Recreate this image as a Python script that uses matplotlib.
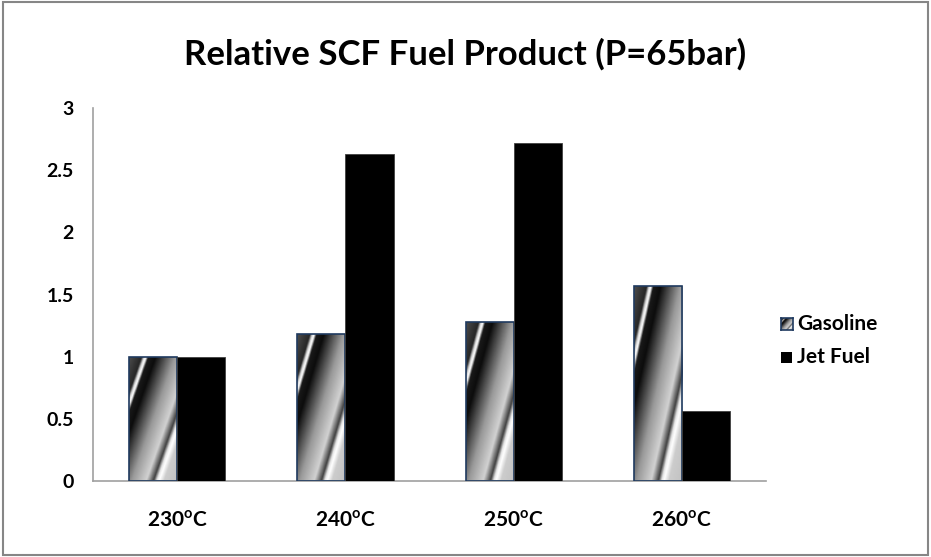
import numpy as np
import matplotlib
matplotlib.use("Agg")
import matplotlib.pyplot as plt
from matplotlib.patches import Rectangle

plt.rcParams['font.family'] = ['Lato', 'DejaVu Sans']
plt.rcParams['mathtext.fontset'] = 'custom'
plt.rcParams['mathtext.bf'] = 'Lato:bold'
plt.rcParams['mathtext.rm'] = 'Lato:bold'

# Daten
temperatures = ['230$^\\mathbf{o}$C', '240$^\\mathbf{o}$C', '250$^\\mathbf{o}$C', '260$^\\mathbf{o}$C']
gasoline = [1.0, 1.18, 1.28, 1.57]
jet_fuel = [1.0, 2.63, 2.72, 0.56]
y_ticks = [0, 0.5, 1, 1.5, 2, 2.5, 3]
y_tick_labels = ['0', '0.5', '1', '1.5', '2', '2.5', '3']

title = 'Relative SCF Fuel Product (P=65bar)'
legend_labels = ['Gasoline', 'Jet Fuel']


def gradient_fill(h=200, w=60):
    """Schraege Verlaufsfuellung (hell/dunkel Streifen) fuer die Gasoline-Balken."""
    v, u = np.mgrid[0:1:h * 1j, 0:1:w * 1j]
    t = u + 0.9 * v
    stops_t = [0.0, 0.26, 0.31, 0.35, 0.40, 0.55, 0.95, 1.25, 1.40, 1.47, 1.52, 1.62, 1.95]
    stops_v = [0.30, 0.15, 0.85, 1.0, 0.10, 0.05, 0.60, 0.82, 0.25, 0.90, 1.0, 0.80, 0.75]
    return np.interp(t, stops_t, stops_v)


fig = plt.figure(figsize=(9.31, 5.57), dpi=100)
ax = fig.add_axes([0.0999, 0.1364, 0.7229, 0.6696])

x = np.arange(len(temperatures))
width = 0.286
grad = gradient_fill()

gas_bars = ax.bar(x - width / 2, gasoline, width, facecolor='none',
                  edgecolor='#1f3a5f', linewidth=1.2, zorder=3)
for bar in gas_bars:
    x0, y0 = bar.get_x(), bar.get_y()
    im = ax.imshow(grad, cmap='gray', vmin=0, vmax=1, aspect='auto',
                   extent=(x0, x0 + bar.get_width(), y0, y0 + bar.get_height()),
                   interpolation='bilinear', zorder=2)
    im.set_clip_path(bar)

ax.bar(x + width / 2, jet_fuel, width, color='black', edgecolor='#404040',
       linewidth=0.6, zorder=3)

ax.set_xlim(-0.5, 3.5)
ax.set_ylim(0, 3)
ax.set_xticks(x)
ax.set_xticklabels(temperatures, fontsize=15, fontweight='bold')
ax.set_yticks(y_ticks)
ax.set_yticklabels(y_tick_labels, fontsize=14, fontweight='bold')
ax.tick_params(axis='y', length=0, pad=14)
ax.tick_params(axis='x', length=0, pad=21)

for side in ['top', 'right']:
    ax.spines[side].set_visible(False)
for side in ['left', 'bottom']:
    ax.spines[side].set_color('#a0a0a0')
    ax.spines[side].set_linewidth(1.2)

fig.text(0.5, 1 - 65 / 557, title, ha='center', va='baseline', fontsize=25, fontweight='bold')

# Legende von Hand: Farbfeld + Text
sw = fig.add_axes([781 / 931, 1 - 330 / 557, 12 / 931, 12 / 557])
sw.imshow(grad, cmap='gray', vmin=0, vmax=1, aspect='auto', interpolation='bilinear')
sw.set_xticks([])
sw.set_yticks([])
for s in sw.spines.values():
    s.set_color('#1f3a5f')
    s.set_linewidth(1.2)
fig.text(797 / 931, 1 - 324 / 557, legend_labels[0], ha='left', va='center',
         fontsize=15, fontweight='bold')

fig.patches.append(Rectangle((781 / 931, 1 - 363 / 557), 11 / 931, 11 / 557,
                             transform=fig.transFigure, facecolor='black',
                             edgecolor='none'))
fig.text(797 / 931, 1 - 357 / 557, legend_labels[1], ha='left', va='center',
         fontsize=15, fontweight='bold')

# Rahmen um das Diagramm
fig.patches.append(Rectangle((0.003, 0.003), 0.994, 0.994, transform=fig.transFigure,
                             facecolor='none', edgecolor='#868686', linewidth=1.5))

fig.savefig('out.png', dpi=100)
